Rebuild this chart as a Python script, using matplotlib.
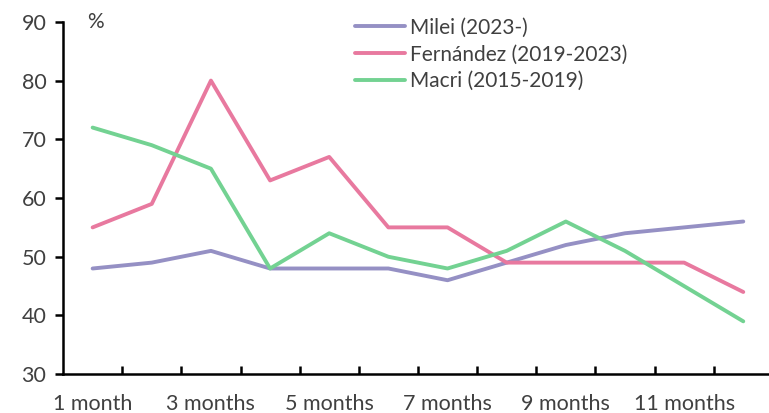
import matplotlib
matplotlib.use("Agg")
import matplotlib.pyplot as plt
import numpy as np

categories = ["1 month", "2 months", "3 months", "4 months", "5 months", "6 months",
              "7 months", "8 months", "9 months", "10 months", "11 months", "12 months"]
milei = [48, 49, 51, 48, 48, 48, 46, 49, 52, 54, 55, 56]
fernandez = [55, 59, 80, 63, 67, 55, 55, 49, 49, 49, 49, 44]
macri = [72, 69, 65, 48, 54, 50, 48, 51, 56, 51, 45, 39]
series_names = ["Milei (2023-)", "Fernández (2019-2023)", "Macri (2015-2019)"]
colors = ["#9590c4", "#e8799f", "#73d292"]

plt.rcParams['font.family'] = ['Lato', 'DejaVu Sans']
fig = plt.figure(figsize=(7.69, 4.13), dpi=100)
ax = fig.add_axes([0.082, 0.094, 0.923, 0.853])

x = np.arange(len(categories))
for vals, name, c in zip([milei, fernandez, macri], series_names, colors):
    ax.plot(x, vals, color=c, lw=2.8, label=name, solid_capstyle='round')

ax.set_xlim(-0.5, 11.5)
ax.set_ylim(30, 90)
ax.set_yticks(range(30, 91, 10))
ax.set_xticks(x[::2])
ax.set_xticklabels(categories[::2])
ax.set_xticks(np.arange(0.5, 11.5, 1), minor=True)
ax.tick_params(axis='x', which='major', length=0, pad=14, labelsize=15.5, labelcolor='#404040')
ax.tick_params(axis='x', which='minor', direction='in', length=6, width=1.8, color='black')
ax.tick_params(axis='y', direction='out', length=6, width=1.8, labelsize=15.5, labelcolor='#404040', pad=6)
for s in ['top', 'right']:
    ax.spines[s].set_visible(False)
for s in ['left', 'bottom']:
    ax.spines[s].set_linewidth(1.8)
    ax.spines[s].set_color('black')

ax.text(-0.1, 90, "%", fontsize=15, color='#404040', va='center', ha='left')

leg = ax.legend(loc='upper left', bbox_to_anchor=(0.385, 1.065), frameon=False, fontsize=15,
                handlelength=2.4, handletextpad=0.25, labelspacing=0.32, labelcolor='#404040')

fig.savefig("out.png", dpi=100)
